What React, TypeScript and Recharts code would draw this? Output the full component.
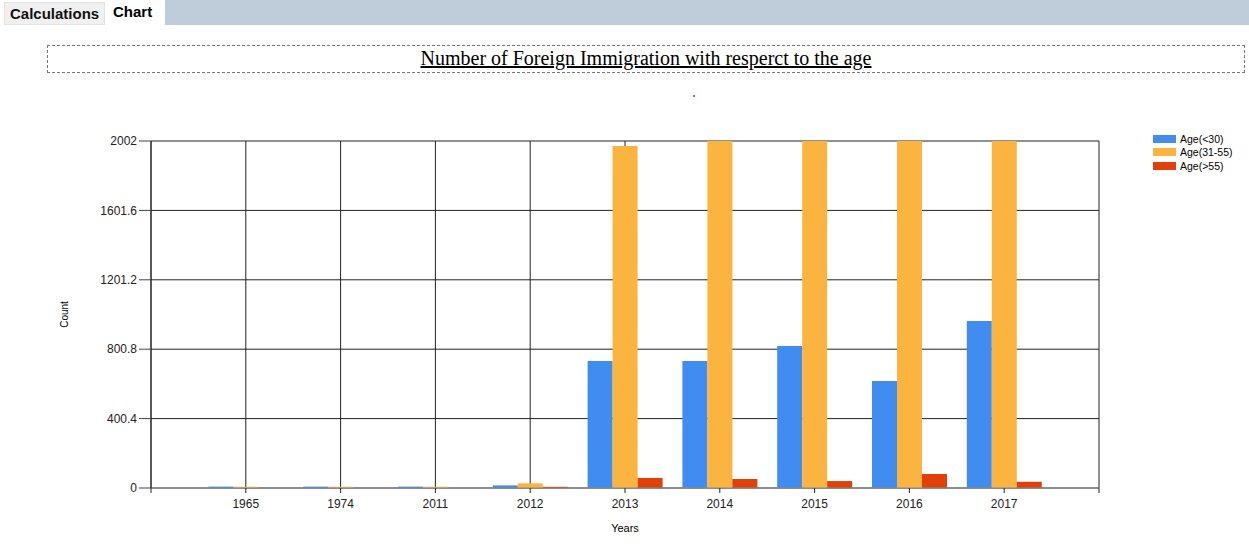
import React from "react";
import { BarChart, Bar, XAxis, YAxis, CartesianGrid, Label } from "recharts";

const years = ["1965", "1974", "2011", "2012", "2013", "2014", "2015", "2016", "2017"];
const ageUnder30 = [8, 8, 8, 15, 733, 733, 819, 617, 963];
const age31to55 = [7, 7, 7, 27, 1973, 2002, 2002, 2002, 2002];
const ageOver55 = [0, 0, 0, 7, 58, 52, 40, 81, 36];
const yTicks = [0, 400.4, 800.8, 1201.2, 1601.6, 2002];
const seriesNames = ["Age(<30)", "Age(31-55)", "Age(>55)"];
const seriesColors = ["#418CF0", "#FCB441", "#E0400A"];

const data = years.map((y, i) => ({
  x: i + 1,
  year: y,
  a: ageUnder30[i],
  b: age31to55[i],
  c: ageOver55[i],
}));

const xTicks = [0, 1, 2, 3, 4, 5, 6, 7, 8, 9, 10];

export default function App() {
  return (
    <div style={{ position: "absolute", left: 0, top: 0, width: 1249, height: 560, background: "#fff", overflow: "hidden", fontFamily: "'Liberation Sans', Arial, sans-serif" }}>
      {/* tab strip */}
      <div style={{ position: "absolute", left: 165, top: 0, width: 1084, height: 25, background: "#BFCDDB" }} />
      <div style={{ position: "absolute", left: 4, top: 2, width: 101, height: 23, background: "#F0F0F0", border: "1px solid #E3E3E3", boxSizing: "border-box" }} />
      <div style={{ position: "absolute", left: 10, top: 5, fontSize: 15, fontWeight: "bold", color: "#111" }}>Calculations</div>
      <div style={{ position: "absolute", left: 113, top: 3, fontSize: 15, fontWeight: "bold", color: "#000" }}>Chart</div>
      {/* title box */}
      <div style={{ position: "absolute", left: 47, top: 45, width: 1198, height: 28, border: "1px dashed #777", boxSizing: "border-box" }} />
      <div style={{ position: "absolute", left: 47, top: 47, width: 1198, textAlign: "center", fontFamily: "'Liberation Serif', 'Times New Roman', serif", fontSize: 20, textDecoration: "underline", color: "#000" }}>
        Number of Foreign Immigration with resperct to the age
      </div>
      <div style={{ position: "absolute", left: 693, top: 95, width: 2, height: 2, background: "#E040A0" }} />
      {/* legend */}
      <div style={{ position: "absolute", left: 1153, top: 132 }}>
        {seriesNames.map((n, i) => (
          <div key={n} style={{ display: "flex", alignItems: "center", height: 13.5 }}>
            <div style={{ width: 23, height: 8, background: seriesColors[i], marginRight: 4 }} />
            <span style={{ fontSize: 10.5, color: "#000" }}>{n}</span>
          </div>
        ))}
      </div>
      <div style={{ position: "absolute", left: 0, top: 0 }}>
        <BarChart width={1249} height={560} data={data} margin={{ top: 141, right: 150, bottom: 42, left: 91 }} barGap={0} barSize={25}>
          <CartesianGrid stroke="#222" strokeWidth={1} horizontalValues={yTicks} verticalValues={xTicks} />
          <XAxis
            dataKey="x"
            type="number"
            domain={[0, 10]}
            ticks={xTicks}
            interval={0}
            tickFormatter={(v: number) => (v >= 1 && v <= 9 ? years[v - 1] : "")}
            tick={{ fill: "#222", fontSize: 12, dy: 4 }}
            tickLine={{ stroke: "#222" }}
            axisLine={{ stroke: "#888" }}
            tickSize={5}
            height={30}
          >
            <Label value="Years" position="insideBottom" offset={-14} style={{ fontSize: 11, fill: "#000" }} />
          </XAxis>
          <YAxis
            type="number"
            domain={[0, 2002]}
            ticks={yTicks}
            interval={0}
            allowDataOverflow
            tick={{ fill: "#222", fontSize: 12 }}
            tickLine={{ stroke: "#444" }}
            axisLine={{ stroke: "#222" }}
            tickSize={12}
            width={60}
          >
            <Label value="Count" angle={-90} position="insideLeft" offset={-27} style={{ fontSize: 10, fill: "#000", textAnchor: "middle" }} />
          </YAxis>
          <Bar dataKey="a" fill={seriesColors[0]} isAnimationActive={false} />
          <Bar dataKey="b" fill={seriesColors[1]} isAnimationActive={false} />
          <Bar dataKey="c" fill={seriesColors[2]} isAnimationActive={false} />
        </BarChart>
      </div>
    </div>
  );
}
